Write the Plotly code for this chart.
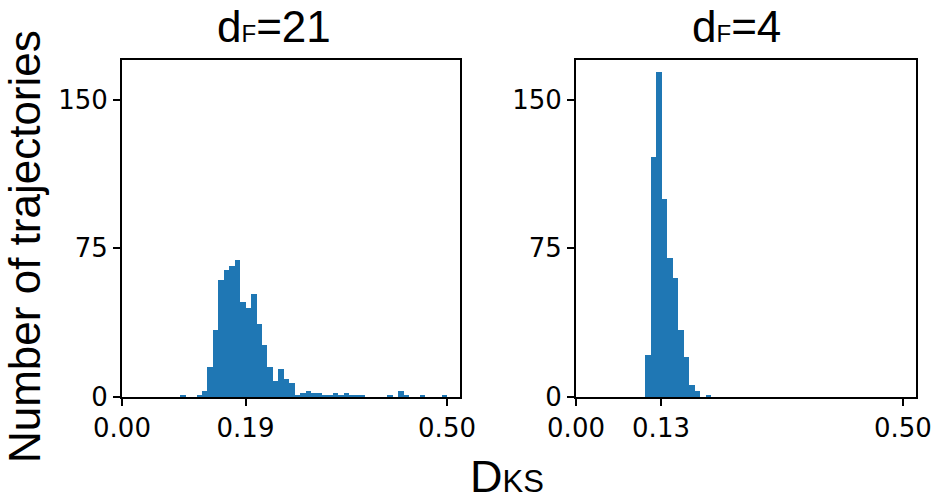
import plotly.graph_objects as go

# counts per bin (600 trajectories each)
left_counts = [1, 0, 0, 1, 3, 15, 34, 59, 64, 66, 69, 48, 45, 52, 37, 26, 15, 8, 14, 9,
               7, 1, 2, 3, 2, 2, 1, 1, 2, 1, 2, 1, 1, 1, 0, 0, 0, 0, 1, 0,
               3, 1, 0, 0, 1, 0, 0, 0, 1]
left_bin_start = 0.0896
left_bin_width = 0.00838

right_counts = [21, 121, 164, 100, 70, 60, 34, 20, 6, 3, 0, 1]
right_bin_start = 0.1058
right_bin_width = 0.00843

left_ticks = [0.0, 0.19, 0.5]
left_ticktext = ["0.00", "0.19", "0.50"]
right_ticks = [0.0, 0.13, 0.5]
right_ticktext = ["0.00", "0.13", "0.50"]
y_ticks = [0, 75, 150]

left_title = "d<span style='font-size:24px'>F</span>=21"
right_title = "d<span style='font-size:24px'>F</span>=4"
x_title = "D<span style='font-size:31px'>KS</span>"
y_title = "Number of trajectories"

BAR_COLOR = "#1f77b4"
TICK_FONT = dict(family="DejaVu Sans", size=26, color="black")
LABEL_FONT = "Liberation Sans, Arial, sans-serif"


def centers(start, width, n):
    return [start + (i + 0.5) * width for i in range(n)]


fig = go.Figure()
fig.add_trace(go.Bar(x=centers(left_bin_start, left_bin_width, len(left_counts)),
                     y=left_counts, width=left_bin_width,
                     marker=dict(color=BAR_COLOR, line=dict(width=0)),
                     xaxis="x", yaxis="y", showlegend=False))
fig.add_trace(go.Bar(x=centers(right_bin_start, right_bin_width, len(right_counts)),
                     y=right_counts, width=right_bin_width,
                     marker=dict(color=BAR_COLOR, line=dict(width=0)),
                     xaxis="x2", yaxis="y2", showlegend=False))

axis_style = dict(showline=True, mirror=True, linecolor="black", linewidth=1.8,
                  ticks="outside", ticklen=7, tickwidth=1.8, tickcolor="black",
                  showgrid=False, zeroline=False, tickfont=TICK_FONT)

fig.update_layout(
    width=945, height=504,
    margin=dict(l=122, r=29, t=60, b=107),
    paper_bgcolor="white", plot_bgcolor="white",
    bargap=0,
    xaxis=dict(domain=[0, 0.4257], range=[0, 0.52], tickvals=left_ticks,
               ticktext=left_ticktext, anchor="y", **axis_style),
    yaxis=dict(domain=[0, 1], range=[0, 170], tickvals=y_ticks, anchor="x", **axis_style),
    xaxis2=dict(domain=[0.5718, 1], range=[0, 0.52], tickvals=right_ticks,
                ticktext=right_ticktext, anchor="y2", **axis_style),
    yaxis2=dict(domain=[0, 1], range=[0, 170], tickvals=y_ticks, anchor="x2", **axis_style),
    annotations=[
        dict(text=left_title, x=0.192, y=1.098, xref="paper", yref="paper",
             xanchor="center", yanchor="middle", showarrow=False,
             font=dict(family=LABEL_FONT, size=44, color="black")),
        dict(text=right_title, x=0.774, y=1.098, xref="paper", yref="paper",
             xanchor="center", yanchor="middle", showarrow=False,
             font=dict(family=LABEL_FONT, size=44, color="black")),
        dict(text=x_title, x=0.4849, y=-0.3175, xref="paper", yref="paper",
             xanchor="center", yanchor="bottom", showarrow=False,
             font=dict(family=LABEL_FONT, size=45, color="black")),
        dict(text=y_title, x=-0.1234, y=0.445, xref="paper", yref="paper",
             xanchor="center", yanchor="middle", showarrow=False, textangle=-90,
             font=dict(family=LABEL_FONT, size=44, color="black")),
    ],
)

# page has a default 8px body margin; drop it so the figure fills the window
fig.write_html("out.html", config={"displayModeBar": False},
               post_script="document.body.style.margin='0';document.body.style.overflow='hidden';")
